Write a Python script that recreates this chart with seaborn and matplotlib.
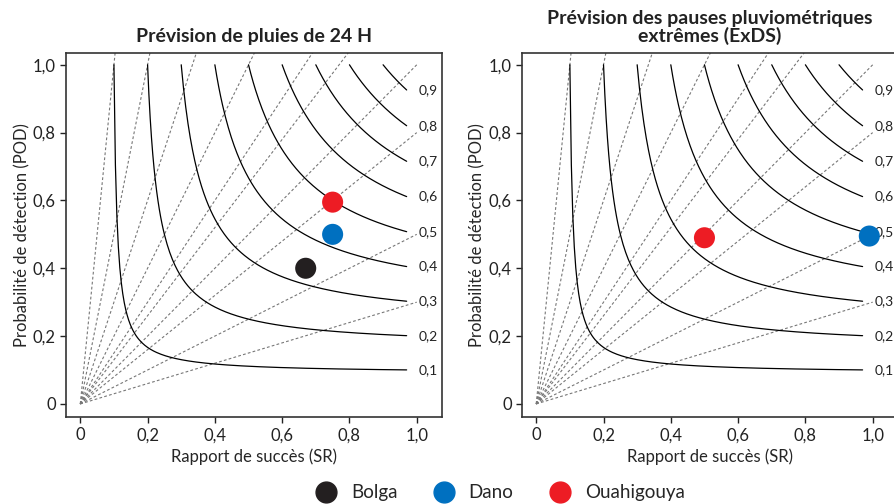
import numpy as np
import pandas as pd
import seaborn as sns
import matplotlib.pyplot as plt
from matplotlib.lines import Line2D

# station colours
stations = ['Bolga', 'Dano', 'Ouahigouya']
colors = ['#231f20', '#0070c0', '#ed1c24']

# left panel: 24 h rainfall forecast
sr_24h = [0.67, 0.75, 0.75]
pod_24h = [0.40, 0.50, 0.595]

# right panel: extreme dry spells (Bolga not shown)
stations_exds = ['Dano', 'Ouahigouya']
sr_exds = [0.99, 0.50]
pod_exds = [0.495, 0.49]

# CSI contours and frequency bias lines
csi_levels = [0.1, 0.2, 0.3, 0.4, 0.5, 0.6, 0.7, 0.8, 0.9]
csi_labels = ['0,1', '0,2', '0,3', '0,4', '0,5', '0,6', '0,7', '0,8', '0,9']
bias_levels = [0.3, 0.5, 0.8, 1, 1.3, 1.5, 2, 3, 5, 10]

ticks = [0, 0.2, 0.4, 0.6, 0.8, 1.0]
tick_labels = ['0', '0,2', '0,4', '0,6', '0,8', '1,0']

titles = ['Prévision de pluies de 24 H',
          'Prévision des pauses pluviométriques\nextrêmes (ExDS)']

sns.set_theme(style='ticks')
plt.rcParams['font.family'] = ['Lato', 'DejaVu Sans']
plt.rcParams['axes.edgecolor'] = '#333333'
plt.rcParams['axes.linewidth'] = 1.2

fig = plt.figure(figsize=(8.94, 5.04), dpi=100)
ax1 = fig.add_axes([0.074, 0.173, 0.42, 0.722])
ax2 = fig.add_axes([0.584, 0.173, 0.42, 0.722])

pal = dict(zip(stations, colors))


def diagram(ax, title):
    # bias lines from the origin
    for b in bias_levels:
        sr = np.linspace(0, 1.0, 50)
        ax.plot(sr, b * sr, ls=(0, (2.5, 2)), color='#777777', lw=0.8, zorder=1)
    # CSI curves
    for c, lab in zip(csi_levels, csi_labels):
        sr = np.linspace(c, 0.97, 200)
        pod = 1 / (1 / c - 1 / sr + 1)
        ax.plot(sr, pod, color='black', lw=0.9, zorder=2)
        ax.text(1.005, pod[-1], lab, fontsize=10, va='center', ha='left', color='#222222')
    ax.set_xlim(-0.042, 1.074)
    ax.set_ylim(-0.038, 1.035)
    ax.set_xticks(ticks)
    ax.set_xticklabels(tick_labels)
    ax.set_yticks(ticks)
    ax.set_yticklabels(tick_labels)
    ax.tick_params(labelsize=12, length=4, width=1, colors='#222222')
    ax.set_xlabel('Rapport de succès (SR)', fontsize=12, labelpad=4)
    ax.set_ylabel('Probabilité de détection (POD)', fontsize=12, labelpad=2)
    ax.set_title(title, fontsize=14, fontweight='bold', pad=8,
                 linespacing=1.0, color='#222222')


diagram(ax1, titles[0])
diagram(ax2, titles[1])

df1 = pd.DataFrame({'station': stations, 'sr': sr_24h, 'pod': pod_24h})
df2 = pd.DataFrame({'station': stations_exds, 'sr': sr_exds, 'pod': pod_exds})
sns.scatterplot(data=df1, x='sr', y='pod', hue='station', palette=pal, s=230,
                edgecolor='none', legend=False, ax=ax1, zorder=5, clip_on=False)
sns.scatterplot(data=df2, x='sr', y='pod', hue='station', palette=pal, s=230,
                edgecolor='none', legend=False, ax=ax2, zorder=5, clip_on=False)

handles = [Line2D([], [], marker='o', ls='none', color=col, markersize=15)
           for col in colors]
fig.legend(handles, stations, loc='lower center', ncol=3, frameon=False,
           bbox_to_anchor=(0.555, -0.028), fontsize=13.5, handletextpad=0.3,
           columnspacing=1.5)

fig.savefig('out.png', dpi=100)
